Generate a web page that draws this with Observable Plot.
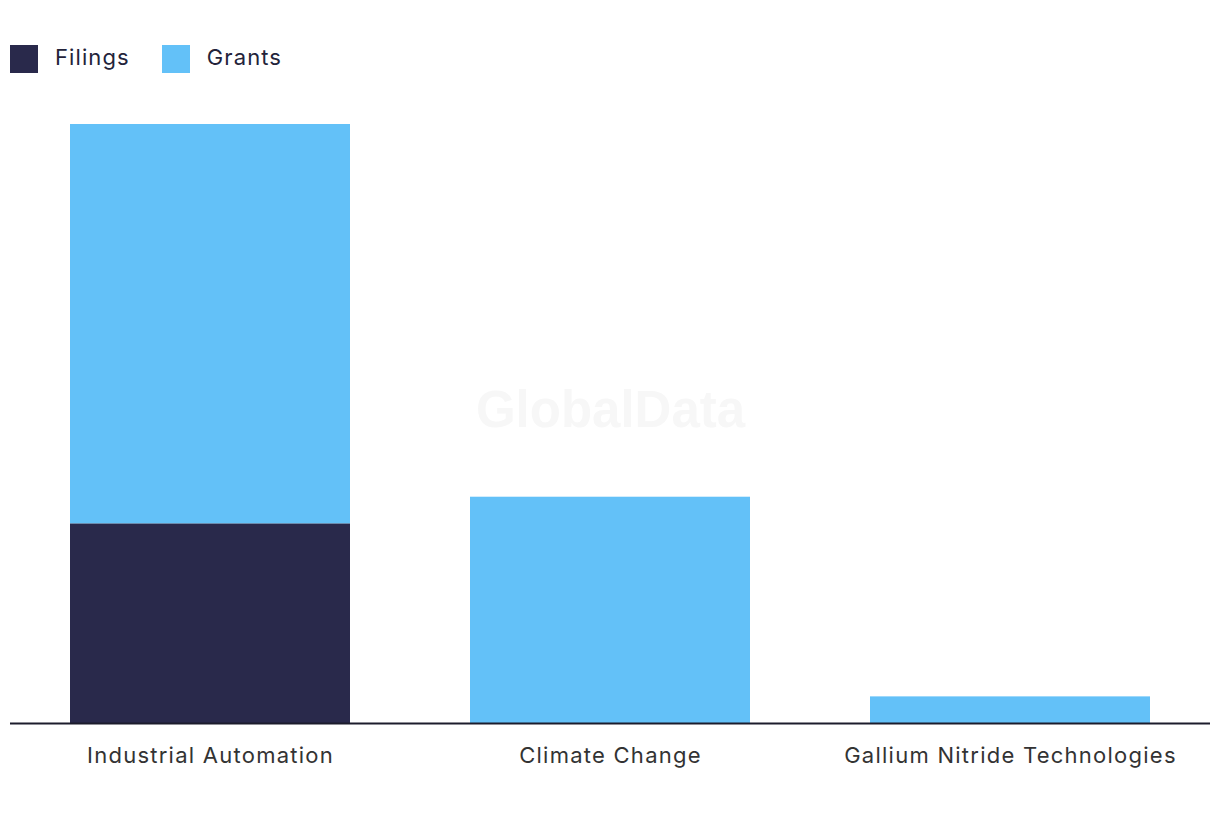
<!DOCTYPE html>
<html>
<head>
<meta charset="utf-8">
<script src="https://cdn.jsdelivr.net/npm/d3@7"></script>
<script src="https://cdn.jsdelivr.net/npm/@observablehq/plot@0.6"></script>
<style>
  html, body { margin: 0; padding: 0; background: #fff; }
  body { width: 1220px; height: 820px; overflow: hidden; font-family: Inter, "Noto Sans", sans-serif; }
  #legend { height: 100px; box-sizing: border-box; padding-top: 45px; padding-left: 10px; display: flex; align-items: flex-start; }
  .item { display: flex; align-items: center; margin-right: 32px; font-size: 22px; letter-spacing: 1.1px; color: #23233a; height: 28px; }
  .item span { position: relative; top: -2px; }
  .sw { width: 28px; height: 28px; margin-right: 17px; }
  #chart g[aria-label="x-axis tick label"] text { letter-spacing: 1.25px; }
</style>
</head>
<body>
<div id="legend"></div>
<div id="chart"></div>
<script>
const categories = ["Industrial Automation", "Climate Change", "Gallium Nitride Technologies"];
const seriesNames = ["Filings", "Grants"];
const filings = [30, 0, 0];
const grants = [60, 34, 4];
const colors = ["#29294b", "#63c1f8"];

const rows = [];
categories.forEach((c, i) => {
  rows.push({category: c, series: "Filings", value: filings[i]});
  rows.push({category: c, series: "Grants", value: grants[i]});
});

const legend = document.getElementById("legend");
seriesNames.forEach((s, i) => {
  const it = document.createElement("div");
  it.className = "item";
  const sw = document.createElement("div");
  sw.className = "sw";
  sw.style.background = colors[i];
  it.appendChild(sw);
  const t = document.createElement("span");
  t.textContent = s;
  it.appendChild(t);
  legend.appendChild(it);
});

const chart = Plot.plot({
  width: 1220,
  height: 720,
  marginLeft: 10,
  marginRight: 10,
  marginTop: 24,
  marginBottom: 97,
  style: {fontFamily: "Inter, 'Noto Sans', sans-serif", background: "#fff"},
  x: {domain: categories, paddingInner: 0.3, paddingOuter: 0.15, label: null},
  y: {domain: [0, 90], axis: null},
  color: {domain: seriesNames, range: colors},
  marks: [
    Plot.text(["GlobalData"], {frameAnchor: "middle", dy: -13, fontSize: 51, fontWeight: "bold", fill: "#f7f7f7", fontFamily: "'Liberation Sans', Arial, sans-serif"}),
    Plot.barY(rows, {x: "category", y: "value", fill: "series", order: seriesNames}),
    Plot.ruleY([0], {stroke: "#1c1c2c", strokeWidth: 2}),
    Plot.axisX({tickSize: 0, tickPadding: 24, fontSize: 22, fill: "#333", label: null})
  ]
});
document.getElementById("chart").appendChild(chart);
</script>
</body>
</html>
